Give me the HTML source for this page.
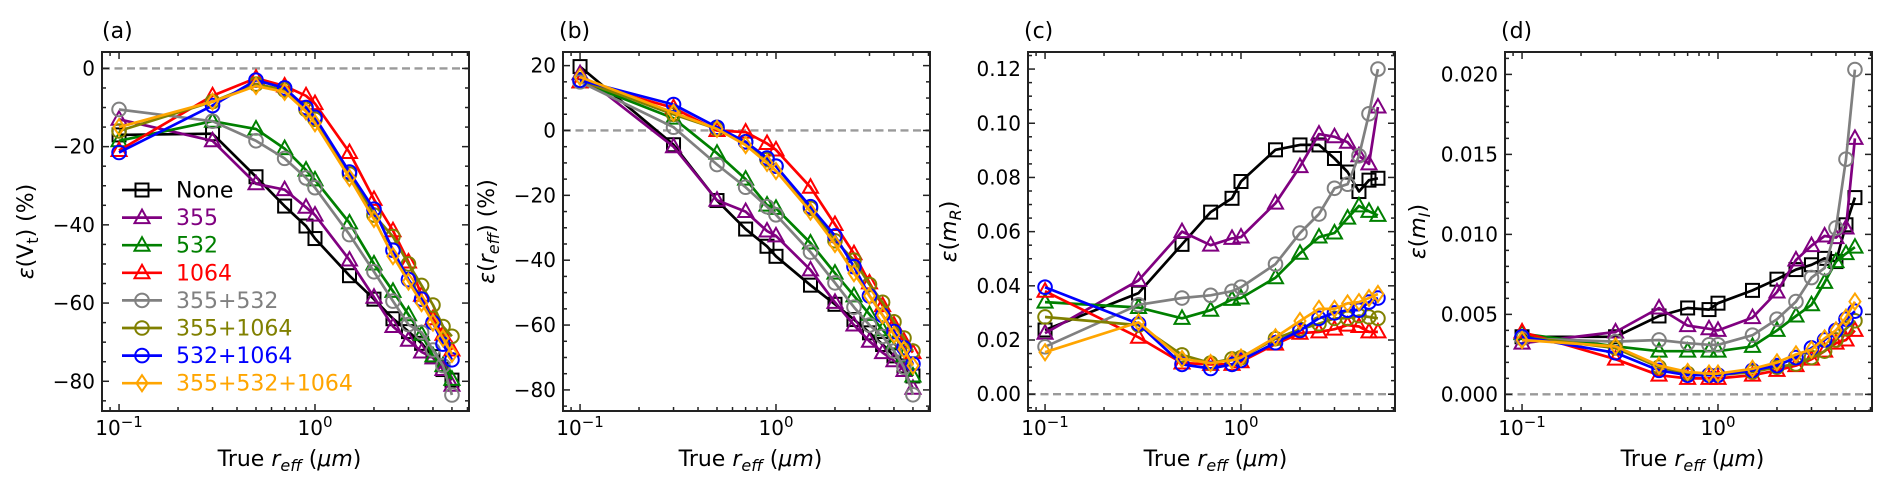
<!DOCTYPE html>
<html><head><meta charset="utf-8"><style>
html,body{margin:0;padding:0;background:#fff;}
svg{display:block;font-family:"DejaVu Sans","Liberation Sans",sans-serif;}
</style></head><body>
<svg id="fig" width="1892" height="490" viewBox="0 0 1892 490" xmlns="http://www.w3.org/2000/svg"></svg>
<script>
const xs = [0.1,0.3,0.5,0.7,0.9,1.0,1.5,2.0,2.5,3.0,3.5,4.0,4.5,5.0];
const seriesNames = ["None","355","532","1064","355+532","355+1064","532+1064","355+532+1064"];
const seriesColors = ["#000000","#800080","#008000","#ff0000","#808080","#808000","#0000ff","#ffa500"];
const seriesMarkers = ["s","^","^","^","o","o","o","d"];

const vtNone = [-17,-16.7,-27.7,-35.2,-40.3,-43.5,-53,-59,-64,-67.3,-70.3,-73.7,-77,-79.7];
const vt355 = [-13,-18.5,-29.5,-31,-35.5,-37.5,-49,-58.5,-66,-69.5,-72.5,-74,-77,-81];
const vt532 = [-18.5,-13.5,-15.5,-20.5,-26,-28.5,-39.5,-50,-57,-63,-68,-73.5,-76,-79.5];
const vt1064 = [-21,-7,-2.5,-4.5,-7,-9,-21.5,-33.5,-41.5,-49.5,-58,-64,-68,-72];
const vt355_532 = [-10.5,-13.5,-18.5,-23,-28,-30.5,-42.5,-52,-59.5,-65.5,-67.5,-72,-76,-83.5];
const vt355_1064 = [-16,-8.5,-4,-5.5,-10.5,-13,-27,-37.5,-43,-50,-55.5,-60.5,-66,-68.5];
const vt532_1064 = [-21.5,-9.5,-3,-5,-10,-12.5,-26.5,-36,-46.5,-54,-59,-65,-70.5,-74.5];
const vtAll = [-15,-8.5,-4.5,-6,-11,-14,-28,-38.5,-48,-54.5,-60,-65,-69,-73];

const reNone = [19.7,-4.4,-21.6,-30.4,-35.7,-38.8,-47.7,-53.6,-58.3,-62.4,-66,-69.5,-72.6,-75.7];
const re355 = [17.5,-5,-21.5,-25,-31,-32.5,-43,-53,-60,-65,-68.5,-71,-74,-79.5];
const re532 = [15,3.8,-7,-15,-23,-24,-34.7,-44,-51,-56.7,-61.5,-65.5,-69.5,-75.7];
const re1064 = [15,7,0,-0.5,-4,-6,-17.5,-29,-38,-47,-54,-60,-65,-68.5];
const re355_532 = [15,1,-10.5,-17.5,-23.5,-26,-37.5,-47,-54.5,-60,-63.5,-68,-73,-81.5];
const re355_1064 = [15.5,5,0.5,-3.5,-9,-11,-24,-34,-40,-47.5,-53,-59,-64,-68];
const re532_1064 = [15.5,8,1,-3.5,-8.5,-11,-23.5,-32.5,-42,-51,-57,-62,-67,-72];
const reAll = [16.5,5.5,0.5,-4.5,-10,-12.5,-25,-35,-44,-51,-57,-63,-67.5,-72.5];

const mrNone = [0.0237,0.0373,0.0553,0.0672,0.0723,0.0785,0.0902,0.092,0.092,0.087,0.082,0.0748,0.079,0.0797];
const mr355 = [0.0225,0.042,0.060,0.055,0.0575,0.058,0.0705,0.084,0.096,0.095,0.093,0.088,0.085,0.106];
const mr532 = [0.034,0.032,0.028,0.031,0.035,0.0355,0.043,0.052,0.058,0.0595,0.065,0.0695,0.0675,0.066];
const mr1064 = [0.038,0.021,0.0115,0.011,0.011,0.012,0.0185,0.0225,0.023,0.024,0.0255,0.025,0.023,0.023];
const mr355_532 = [0.0175,0.033,0.0355,0.0365,0.038,0.0395,0.048,0.0595,0.0665,0.076,0.0775,0.088,0.1035,0.120];
const mr355_1064 = [0.0285,0.0255,0.0145,0.0115,0.013,0.0135,0.0205,0.024,0.026,0.028,0.028,0.029,0.0285,0.028];
const mr532_1064 = [0.0395,0.026,0.011,0.0095,0.011,0.0125,0.019,0.0235,0.028,0.030,0.031,0.031,0.034,0.0355];
const mrAll = [0.0155,0.0265,0.013,0.0115,0.0125,0.0135,0.021,0.027,0.0315,0.0315,0.0335,0.034,0.0355,0.037];

const miNone = [0.0036,0.0036,0.0049,0.0054,0.0053,0.0057,0.0065,0.0072,0.0078,0.0081,0.0085,0.0083,0.0106,0.0123];
const mi355 = [0.0032,0.0039,0.0054,0.0043,0.0041,0.0040,0.0048,0.0064,0.0084,0.0093,0.0099,0.0098,0.0104,0.0160];
const mi532 = [0.0038,0.0030,0.0027,0.0027,0.0027,0.0027,0.0030,0.0040,0.0049,0.0056,0.0070,0.0083,0.0088,0.0092];
const mi1064 = [0.0039,0.0022,0.0012,0.0010,0.0010,0.0010,0.0012,0.0015,0.0018,0.0022,0.0027,0.0032,0.0034,0.0040];
const mi355_532 = [0.0035,0.0033,0.0034,0.0032,0.0031,0.0031,0.0037,0.0047,0.0058,0.0073,0.0079,0.0104,0.0147,0.0203];
const mi355_1064 = [0.0036,0.0029,0.0017,0.0013,0.0012,0.0012,0.0014,0.0017,0.0019,0.0023,0.0027,0.0034,0.0041,0.0046];
const mi532_1064 = [0.0036,0.0026,0.0015,0.0012,0.0012,0.0012,0.0015,0.0018,0.0023,0.0029,0.0034,0.0040,0.0047,0.0052];
const miAll = [0.0034,0.0030,0.0018,0.0014,0.0013,0.0013,0.0016,0.0020,0.0025,0.0028,0.0035,0.0040,0.0048,0.0058];

const xTickLabels = ["−1","0"];
const ticksA = [-80,-60,-40,-20,0];
const ticksB = [-80,-60,-40,-20,0,20];
const ticksC = [0,0.02,0.04,0.06,0.08,0.10,0.12];
const ticksD = [0,0.005,0.010,0.015,0.020];

const NS = "http://www.w3.org/2000/svg";
const svg = document.getElementById("fig");
function el(tag, attrs, parent){ const e=document.createElementNS(NS,tag); for(const k in attrs) e.setAttribute(k,attrs[k]); (parent||svg).appendChild(e); return e; }

const panels = [
 {id:"a", L:102, ymin:-87.6, ymax:4.2, ticks:ticksA, minor:5, dec:0, data:[vtNone,vt355,vt532,vt1064,vt355_532,vt355_1064,vt532_1064,vtAll], ylabX:33, ylab:"V", ysub:"t", ysubItalic:false, ylabItalic:false, pct:true, legend:true},
 {id:"b", L:563, ymin:-86.5, ymax:24.2, ticks:ticksB, minor:5, dec:0, data:[reNone,re355,re532,re1064,re355_532,re355_1064,re532_1064,reAll], ylabX:494, ylab:"r", ysub:"eff", ysubItalic:true, ylabItalic:true, pct:true},
 {id:"c", L:1028, ymin:-0.0062, ymax:0.1263, ticks:ticksC, minor:0.005, dec:2, data:[mrNone,mr355,mr532,mr1064,mr355_532,mr355_1064,mr532_1064,mrAll], ylabX:956, ylab:"m", ysub:"R", ysubItalic:false, ylabItalic:true, pct:false},
 {id:"d", L:1505, ymin:-0.00104, ymax:0.0214, ticks:ticksD, minor:0.001, dec:3, data:[miNone,mi355,mi532,mi1064,mi355_532,mi355_1064,mi532_1064,miAll], ylabX:1425, ylab:"m", ysub:"I", ysubItalic:false, ylabItalic:true, pct:false}
];
const T=52, W=367, H=359, LX0=-1.087, LX1=0.786;

function marker(g, type, cx, cy, color){
  let m;
  const st={fill:"none",stroke:color,"stroke-width":2};
  if(type==="s") m=el("rect",Object.assign({x:cx-6.5,y:cy-6.5,width:13,height:13},st),g);
  else if(type==="o") m=el("circle",Object.assign({cx:cx,cy:cy,r:6.8},st),g);
  else if(type==="^") m=el("polygon",Object.assign({points:`${cx},${cy-8} ${cx-7.5},${cy+5.5} ${cx+7.5},${cy+5.5}`},st),g);
  else m=el("polygon",Object.assign({points:`${cx},${cy-8} ${cx+5.5},${cy} ${cx},${cy+8} ${cx-5.5},${cy}`},st),g);
  
  
}

panels.forEach(p=>{
  const g=el("g",{});
  
  
  const X=v=>p.L+(Math.log10(v)-LX0)/(LX1-LX0)*W;
  const Y=v=>T+(p.ymax-v)/(p.ymax-p.ymin)*H;
  const lab=el("text",{x:p.L+(p.id==="a"?0:-4),y:38,"font-size":22,fill:"#000"},g); lab.textContent="("+p.id+")";
  
  
  const z=el("line",{x1:p.L,x2:p.L+W,y1:Y(0),y2:Y(0),stroke:"#9a9a9a","stroke-width":2.4,"stroke-dasharray":"8,4.5"},g);
  
  
  p.data.forEach((arr,i)=>{
    const sg=el("g",{},g);
    
    
    const pts=arr.map((v,j)=>X(xs[j]).toFixed(1)+","+Y(v).toFixed(1)).join(" ");
    const pl=el("polyline",{points:pts,fill:"none",stroke:seriesColors[i],"stroke-width":2.7,"stroke-linejoin":"round"},sg);
    
    
    arr.forEach((v,j)=>marker(sg,seriesMarkers[i],X(xs[j]),Y(v),seriesColors[i]));
  });
  const fr=el("rect",{x:p.L,y:T,width:W,height:H,fill:"none",stroke:"#222","stroke-width":2},g);
  
  
  const tg=el("g",{stroke:"#222","stroke-width":1.5},g);
  
  
  for(let d=-2; d<=0; d++){
    for(let k=1;k<=9;k++){
      const v=k*Math.pow(10,d); const lv=Math.log10(v);
      if(lv<LX0||lv>LX1) continue;
      const x=X(v), len=k===1?7:4;
      el("line",{x1:x,x2:x,y1:T+H,y2:T+H-len},tg);
      el("line",{x1:x,x2:x,y1:T,y2:T+len},tg);
    }
  }
  [0.1,1].forEach((v,i)=>{
    const t=el("text",{x:X(v),y:435,"font-size":20,"text-anchor":"middle",fill:"#000"},g);
    
    
    const a=document.createElementNS(NS,"tspan"); a.textContent="10"; t.appendChild(a);
    const b=document.createElementNS(NS,"tspan"); b.setAttribute("dy","-8"); b.setAttribute("font-size","15"); b.textContent=xTickLabels[i]; t.appendChild(b);
  });
  const start=Math.ceil(p.ymin/p.minor-1e-9);
  for(let k=start; k*p.minor<=p.ymax+1e-12; k++){
    const v=k*p.minor; const y=Y(v);
    const isMaj=p.ticks.some(t=>Math.abs(t-v)<p.minor*0.01);
    const len=isMaj?7:4;
    el("line",{x1:p.L,x2:p.L+len,y1:y,y2:y},tg);
    el("line",{x1:p.L+W,x2:p.L+W-len,y1:y,y2:y},tg);
  }
  p.ticks.forEach(v=>{
    const t=el("text",{x:p.L-7,y:Y(v)+7,"font-size":20,"text-anchor":"end",fill:"#000"},g);
    
    
    t.textContent=(v<0?"−":"")+Math.abs(v).toFixed(p.dec);
  });
  const xl=el("text",{x:p.L+W/2+4,y:466,"font-size":22,"text-anchor":"middle",fill:"#000"},g);
  
  
  xl.innerHTML='True <tspan font-style="italic">r</tspan><tspan font-style="italic" font-size="16" dy="5">eff</tspan><tspan dy="-5"> (</tspan><tspan font-style="italic">μm</tspan>)';
  const cy=T+H/2;
  const yl=el("text",{x:p.ylabX,y:cy,"font-size":22,"text-anchor":"middle",fill:"#000",transform:`rotate(-90 ${p.ylabX} ${cy})`},g);
  
  
  yl.innerHTML=`<tspan font-style="italic">ε</tspan>(<tspan ${p.ylabItalic?'font-style="italic"':''}>${p.ylab}</tspan><tspan font-size="16" dy="5" ${p.ysubItalic||p.ylabItalic?'font-style="italic"':''}>${p.ysub}</tspan><tspan dy="-5">)</tspan>${p.pct?' (%)':''}`;
  if(p.legend){
    const lg=el("g",{},g);
    
    
    seriesNames.forEach((n,i)=>{
      const y=190+i*27.6;
      const eg=el("g",{},lg);
      
      
      el("line",{x1:122,x2:162,y1:y,y2:y,stroke:seriesColors[i],"stroke-width":2.7},eg);
      marker(eg,seriesMarkers[i],142,y,seriesColors[i]);
      const t=el("text",{x:176,y:y+7.5,"font-size":22,fill:seriesColors[i]},eg);
      t.textContent=n;
    });
  }
});
</script>
</body></html>
